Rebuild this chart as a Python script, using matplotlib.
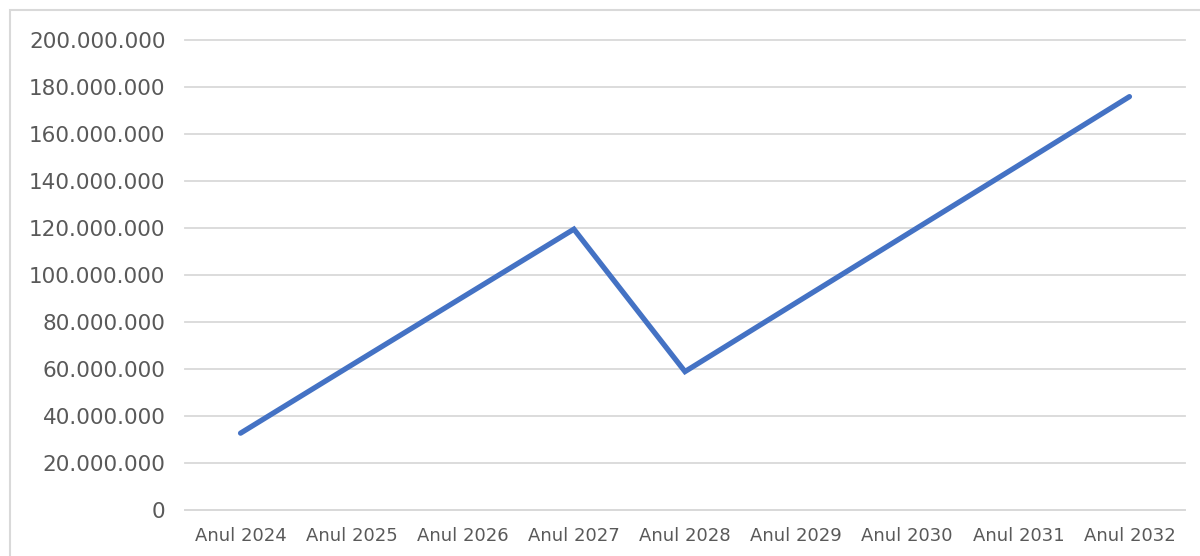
import matplotlib.pyplot as plt
from matplotlib.ticker import FuncFormatter
from matplotlib.patches import Rectangle

# valori
ani = ['Anul 2024', 'Anul 2025', 'Anul 2026', 'Anul 2027', 'Anul 2028',
       'Anul 2029', 'Anul 2030', 'Anul 2031', 'Anul 2032']
valori = [32700000, 61700000, 90600000, 119500000, 58900000,
          88200000, 117400000, 146600000, 175900000]
y_ticks = [0, 20000000, 40000000, 60000000, 80000000, 100000000,
           120000000, 140000000, 160000000, 180000000, 200000000]

fig = plt.figure(figsize=(12, 5.56), dpi=100)
fig.patches.append(Rectangle((10 / 1200, -0.1), 1.2, 1 - 10 / 556 + 0.1,
                             transform=fig.transFigure, fill=False,
                             edgecolor='#D9D9D9', linewidth=1.5))
ax = fig.add_axes([185 / 1200, 1 - 510 / 556, 1000 / 1200, 470 / 556])

x = range(len(ani))
ax.plot(x, valori, color='#4472C4', linewidth=3.8, solid_capstyle='round',
        solid_joinstyle='miter', zorder=3)

ax.set_xlim(-0.5, len(ani) - 0.5)
ax.set_ylim(0, 200000000)
ax.set_yticks(y_ticks)
ax.yaxis.set_major_formatter(FuncFormatter(lambda v, p: f'{int(v):,}'.replace(',', '.')))
ax.set_xticks(list(x))
ax.set_xticklabels(ani)

ax.grid(axis='y', color='#D9D9D9', linewidth=1.3)
for gl in ax.get_ygridlines():
    gl.set_clip_on(False)
ax.set_axisbelow(True)
for s in ['top', 'right', 'left']:
    ax.spines[s].set_visible(False)
ax.spines['bottom'].set_color('#D9D9D9')
ax.spines['bottom'].set_linewidth(1.3)

ax.tick_params(axis='y', length=0, pad=14, labelsize=15.5, labelcolor='#595959')
ax.tick_params(axis='x', length=0, pad=12, labelsize=13, labelcolor='#595959')

plt.savefig('out.png', dpi=100)
